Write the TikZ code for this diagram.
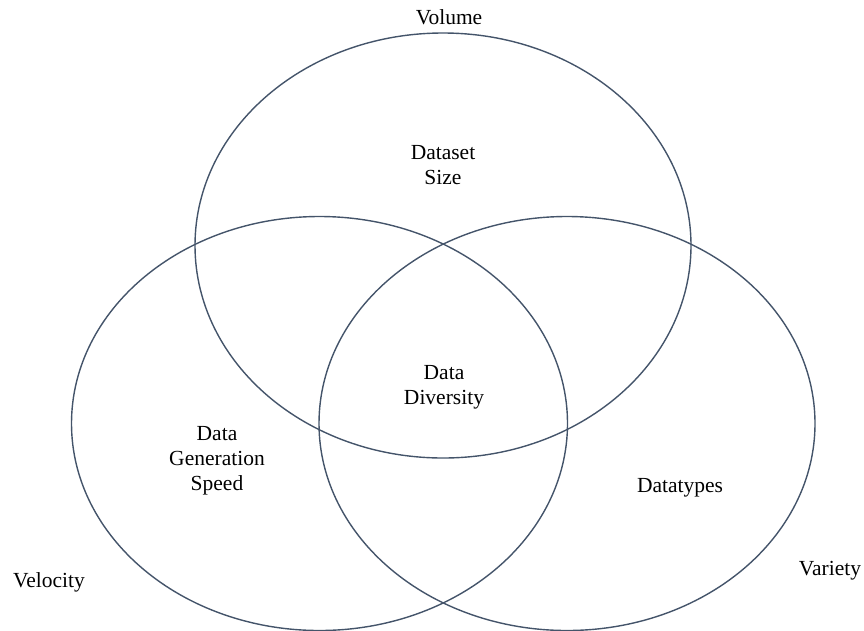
\documentclass[tikz,border=0pt]{standalone}
\usepackage{fontspec}
\setmainfont{Liberation Serif}
\definecolor{ringline}{HTML}{44546A}
\tikzset{
  ring/.style={draw=ringline, line width=1.4pt},
  lbl/.style={font=\fontsize{21.5}{25}\selectfont, align=center, inner sep=0pt, text=black}
}
\begin{document}
\begin{tikzpicture}[x=1pt, y=-1pt]
\useasboundingbox (0,0) rectangle (864,630);
% three overlapping rings
\draw[ring] (443,245.5) ellipse [x radius=248, y radius=212.5];
\draw[ring] (319.5,423.5) ellipse [x radius=248, y radius=207];
\draw[ring] (567,423.5) ellipse [x radius=248, y radius=207];
% ring titles
\node[lbl] (volume) at (449,17) {Volume};
\node[lbl] (velocity) at (49,582) {Velocity};
\node[lbl] (variety) at (830,571) {Variety};
% region texts
\node[lbl] (size) at (443,165) {Dataset\\Size};
\node[lbl] (diversity) at (444,387) {Data\\Diversity};
\node[lbl] (speed) at (217,461) {Data\\Generation\\Speed};
\node[lbl] (types) at (680,488) {Datatypes};
\end{tikzpicture}
\end{document}
